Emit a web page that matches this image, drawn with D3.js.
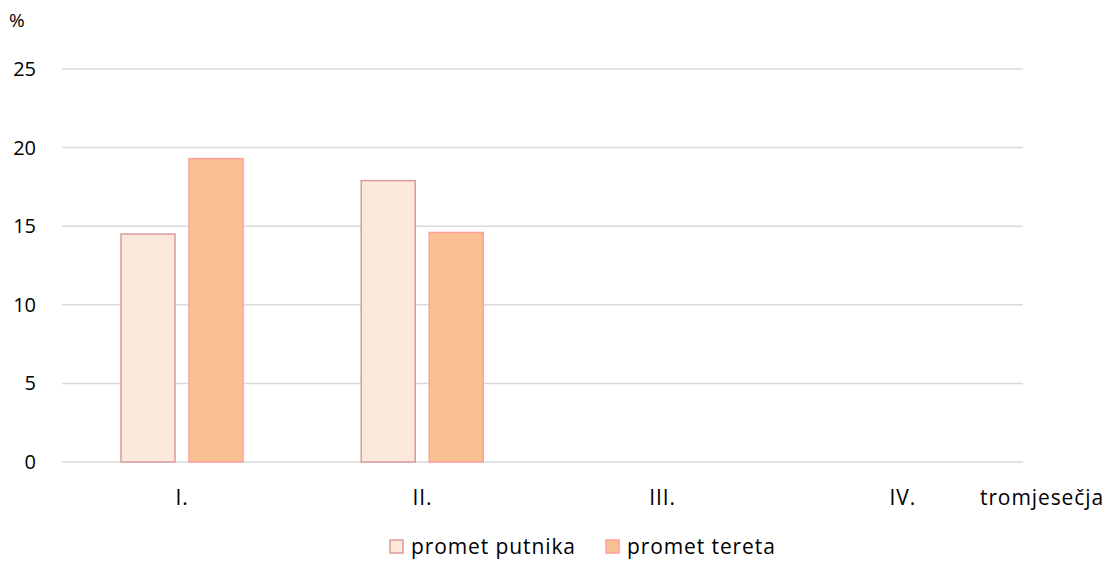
<!DOCTYPE html>
<html lang="hr">
<head>
<meta charset="UTF-8">
<title>Promet</title>
<script src="https://cdn.jsdelivr.net/npm/d3@7/dist/d3.min.js"></script>
<style>
  body { margin: 0; background: #fff; }
  text { font-family: "Open Sans", "Noto Sans", sans-serif; fill: #000; }
  .wide { font-size: 21px; letter-spacing: 0.9px; }
</style>
</head>
<body>
<svg id="chart" width="1112" height="561"></svg>
<script>
// data
const quarters = ["I.", "II.", "III.", "IV."];
const seriesNames = ["promet putnika", "promet tereta"];
const putnika = [14.5, 17.9, null, null];
const tereta = [19.3, 14.6, null, null];
const yTicks = [0, 5, 10, 15, 20, 25];

const fills = ["#FCE9DB", "#F9C091"];
const strokes = ["#DA9A9A", "#FF9E9E"];

const svg = d3.select("#chart");
const m = { left: 62, right: 89, top: 69, bottom: 99 };
const w = 1112 - m.left - m.right, h = 561 - m.top - m.bottom;

const x = d3.scaleBand().domain(quarters).range([0, w]);
const xs = d3.scaleBand().domain(seriesNames).range([59, 181]).paddingInner(0.206);
const y = d3.scaleLinear().domain([0, 25]).range([h, 0]);

const g = svg.append("g").attr("transform", `translate(${m.left},${m.top})`);

// gridlines
g.selectAll(".grid").data(yTicks).enter().append("line")
  .attr("x1", 0).attr("x2", w)
  .attr("y1", d => y(d)).attr("y2", d => y(d))
  .attr("stroke", "#D9D9D9").attr("stroke-width", 1.5);

// y labels
g.selectAll(".ylab").data(yTicks).enter().append("text")
  .attr("x", -26).attr("y", d => y(d)).attr("dy", "0.35em")
  .attr("text-anchor", "end").style("font-size", "20px")
  .text(d => d);

svg.append("text").attr("x", 9).attr("y", 27).style("font-size", "19px").text("%");

const rows = quarters.map((q, i) => ({ q, vals: [putnika[i], tereta[i]] }));

const groups = g.selectAll(".grp").data(rows).enter().append("g")
  .attr("transform", d => `translate(${x(d.q)},0)`);

groups.selectAll("rect")
  .data(d => d.vals.map((v, k) => ({ v, k })).filter(e => e.v != null))
  .enter().append("rect")
  .attr("x", e => xs(seriesNames[e.k]))
  .attr("width", xs.bandwidth())
  .attr("y", e => y(e.v))
  .attr("height", e => h - y(e.v))
  .attr("fill", e => fills[e.k])
  .attr("stroke", e => strokes[e.k])
  .attr("stroke-width", 1.5);

// x labels
g.selectAll(".xlab").data(quarters).enter().append("text")
  .attr("class", "wide")
  .attr("x", d => x(d) + x.bandwidth() / 2).attr("y", h + 43)
  .attr("text-anchor", "middle")
  .text(d => d);

svg.append("text").attr("class", "wide").attr("x", 980).attr("y", m.top + h + 43)
  .text("tromjesečja");

// legend
const leg = svg.append("g").attr("transform", "translate(390,540)");
const lx = [0, 216];
seriesNames.forEach((s, k) => {
  leg.append("rect").attr("x", lx[k]).attr("y", 0).attr("width", 13).attr("height", 13)
    .attr("fill", fills[k]).attr("stroke", strokes[k]).attr("stroke-width", 1.5);
  leg.append("text").attr("class", "wide").attr("x", lx[k] + 21).attr("y", 14).text(s);
});
</script>
</body>
</html>
